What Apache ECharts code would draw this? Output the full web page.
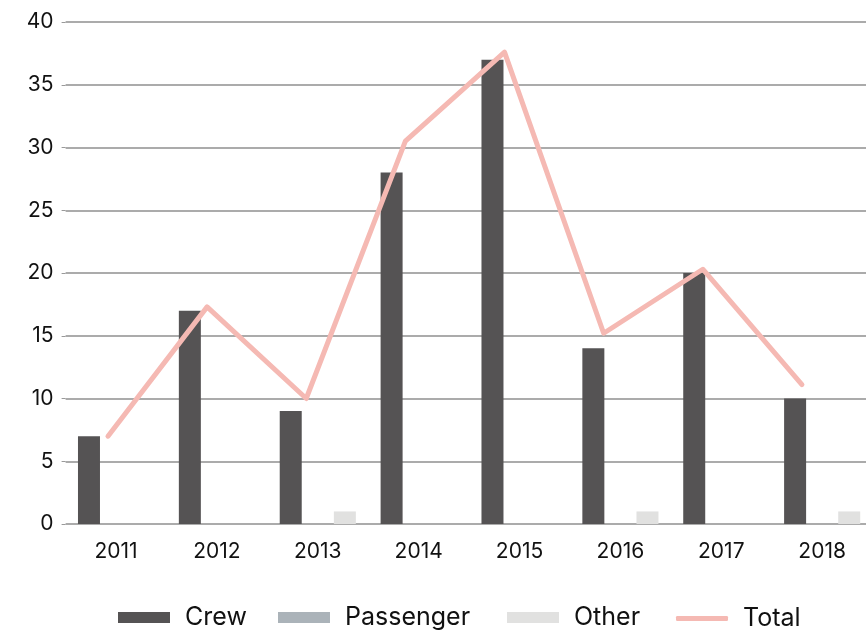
<!DOCTYPE html>
<html>
<head>
<meta charset="utf-8">
<script src="https://cdn.jsdelivr.net/npm/echarts@6/dist/echarts.min.js"></script>
<style>html,body{margin:0;padding:0;background:#fff}#c{width:866px;height:632px}</style>
</head>
<body>
<div id="c"></div>
<script>
var categories = ['2011','2012','2013','2014','2015','2016','2017','2018'];
var crew = [7, 17, 9, 28, 37, 14, 20, 10];
var passenger = [0, 0, 0, 0, 0, 0, 0, 0];
var other = [0, 0, 1, 0, 0, 1, 0, 1];
var total = [7, 17.3, 10, 30.5, 37.6, 15.2, 20.3, 11.1];
var yTicks = [0, 5, 10, 15, 20, 25, 30, 35, 40];
var seriesNames = ['Crew', 'Passenger', 'Other', 'Total'];

var FONT = 'Inter, "Noto Sans", sans-serif';
var legendLefts = [118, 278, 507, 676];
function mkLegend(i) {
  var isLine = i === 3;
  return {
    left: legendLefts[i], top: isLine ? 606 : 605, padding: 0,
    itemWidth: 52, itemHeight: isLine ? 5 : 11,
    textStyle: {fontFamily: FONT, fontSize: 25, color: '#111', padding: [0, 0, 0, 10]},
    data: [{name: seriesNames[i], icon: isLine ? 'roundRect' : 'rect'}]
  };
}
var chart = echarts.init(document.getElementById('c'), null, {renderer: 'canvas'});
chart.setOption({
  animation: false,
  backgroundColor: '#ffffff',
  grid: [
    {left: 65.6, width: 807, top: 22, bottom: 108, outerBoundsMode: 'none', containLabel: false},
    {left: 58.4, width: 793.1, top: 22, bottom: 108, outerBoundsMode: 'none', containLabel: false}
  ],
  legend: [mkLegend(0), mkLegend(1), mkLegend(2), mkLegend(3)],
  xAxis: [
    {type: 'category', gridIndex: 0, data: categories,
     axisLine: {show: false}, axisTick: {show: false},
     axisLabel: {fontFamily: FONT, fontSize: 21, color: '#111', margin: 17}},
    {type: 'category', gridIndex: 1, data: categories, show: false}
  ],
  yAxis: [
    {type: 'value', gridIndex: 0, min: yTicks[0], max: yTicks[yTicks.length - 1], interval: 5,
     axisLine: {show: false},
     axisTick: {show: true, length: 4, lineStyle: {color: '#999', width: 1}},
     axisLabel: {fontFamily: FONT, fontSize: 21, color: '#111', margin: 12},
     splitLine: {lineStyle: {color: '#8f8f8f', width: 1.6}}},
    {type: 'value', gridIndex: 1, min: yTicks[0], max: yTicks[yTicks.length - 1], interval: 5, show: false,
     splitLine: {show: false}}
  ],
  series: [
    {name: 'Crew', type: 'bar', xAxisIndex: 0, yAxisIndex: 0, data: crew,
     barWidth: 22, barGap: '23%', itemStyle: {color: '#555354'}},
    {name: 'Passenger', type: 'bar', xAxisIndex: 0, yAxisIndex: 0, data: passenger,
     barWidth: 22, barGap: '23%', itemStyle: {color: '#abb3b9'}},
    {name: 'Other', type: 'bar', xAxisIndex: 0, yAxisIndex: 0, data: other,
     barWidth: 22, barGap: '23%', itemStyle: {color: '#e1e1e0'}},
    {name: 'Total', type: 'line', xAxisIndex: 1, yAxisIndex: 1, data: total,
     symbol: 'none', showSymbol: false,
     lineStyle: {color: '#f5b9b3', width: 5, cap: 'round', join: 'round'},
     itemStyle: {color: '#f5b9b3'}}
  ]
});
</script>
</body>
</html>
